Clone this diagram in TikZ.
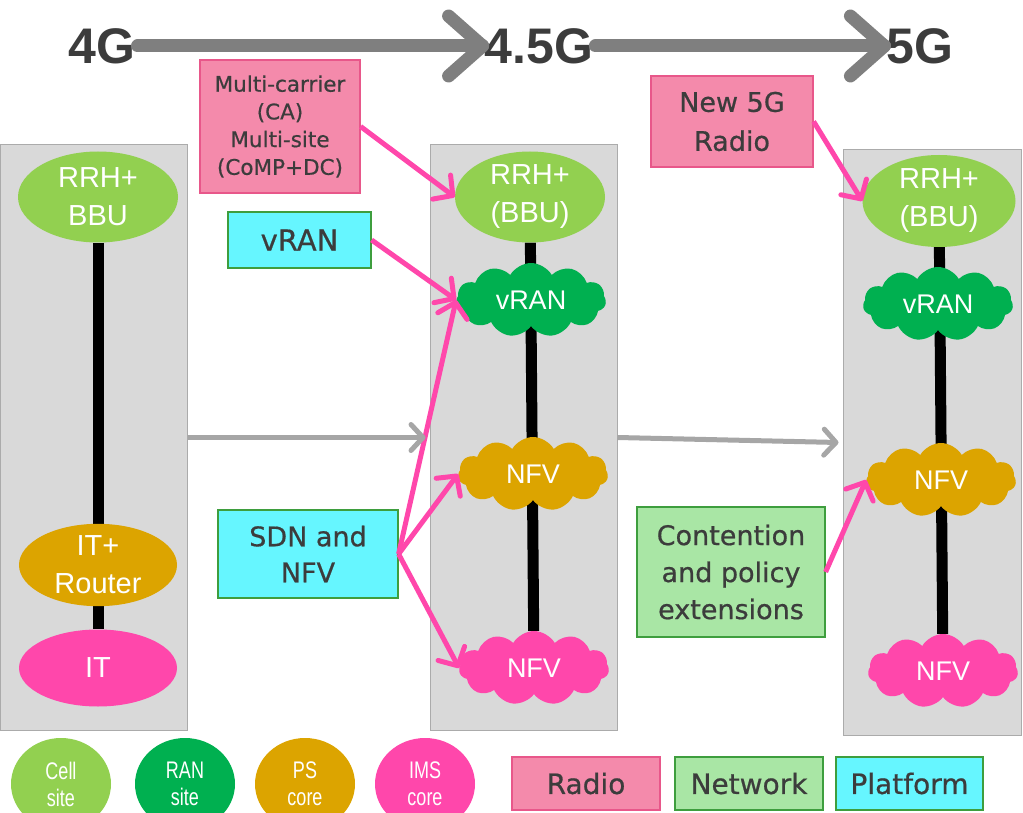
\documentclass[tikz,border=0pt]{standalone}
\usepackage{fontspec}
\setmainfont{Liberation Sans}
\newfontfamily\boxfont[FakeBold=0.6]{DejaVu Sans}
\newfontfamily\narrowfont[FakeStretch=0.75]{Liberation Sans}
\usetikzlibrary{shapes.geometric,shapes.symbols,arrows.meta}

\definecolor{cellgreen}{HTML}{92D050}
\definecolor{rangreen}{HTML}{00B050}
\definecolor{psgold}{HTML}{DCA400}
\definecolor{imspink}{HTML}{FF47AB}
\definecolor{radiofill}{HTML}{F48AAB}
\definecolor{radioline}{HTML}{E8578A}
\definecolor{netfill}{HTML}{A9E6A5}
\definecolor{netline}{HTML}{3E9E3E}
\definecolor{platfill}{HTML}{66F6FF}
\definecolor{colfill}{HTML}{D9D9D9}
\definecolor{colline}{HTML}{ABABAB}
\definecolor{darktext}{HTML}{3C3C3C}
\definecolor{evogray}{HTML}{7F7F7F}
\definecolor{flowgray}{HTML}{A6A6A6}

\pgfdeclarelayer{cols}
\pgfdeclarelayer{links}
\pgfsetlayers{cols,links,main}

\tikzset{
  column/.style={draw=colline, fill=colfill, line width=1, inner sep=0},
  site/.style={ellipse, fill=#1, text=white, align=center, inner sep=0,
    font=\fontsize{29}{38}\selectfont},
  vnf/.style={cloud, cloud puffs=11, cloud puff arc=120, aspect=2.1, fill=#1,
    text=white, inner sep=0, minimum width=150, minimum height=74,
    font=\fontsize{27}{32}\selectfont},
  tagbox/.style={line width=1.2, inner sep=0, align=center, text=darktext},
  radio/.style={tagbox, fill=radiofill, draw=radioline},
  net/.style={tagbox, fill=netfill, draw=netline},
  plat/.style={tagbox, fill=platfill, draw=netline},
  era/.style={text=darktext, inner sep=2, font=\fontsize{50}{50}\selectfont\bfseries},
  legsite/.style={ellipse, fill=#1, text=white, align=center, inner sep=0,
    minimum width=100, minimum height=92, font=\narrowfont\fontsize{24}{27}\selectfont},
  backbone/.style={line width=11},
  evo/.style={evogray, line width=13, line cap=round, line join=round},
  flow/.style={flowgray, line width=5, -{Straight Barb[length=12pt,width=26pt,round]}},
  push/.style={imspink, line width=5, -{Straight Barb[length=14pt,width=30pt,round]}},
}

\begin{document}
\begin{tikzpicture}[x=1pt, y=-1pt]
  \useasboundingbox (0,0) rectangle (1023,813);
  \clip (0,0) rectangle (1023,813);

  % the three columns
  \begin{pgfonlayer}{cols}
    \node[column, minimum width=187, minimum height=585] (c1) at (93.5,437.5) {};
    \node[column, minimum width=187, minimum height=585] (c2) at (523.5,437.5) {};
    \node[column, minimum width=178, minimum height=585] (c3) at (932,442.5) {};
  \end{pgfonlayer}

  % 4G -> 4.5G -> 5G
  \node[era] (g4) at (102,46) {4G};
  \node[era] (g45) at (539,46) {4.5G};
  \node[era] (g5) at (920,46) {5G};
  \draw[evo] (g4.east) -- (g45.west);
  \draw[evo] ([shift={(-34,-30)}]g45.west) -- (g45.west) -- ([shift={(-34,30)}]g45.west);
  \draw[evo] (g45.east) -- (g5.west);
  \draw[evo] ([shift={(-34,-30)}]g5.west) -- (g5.west) -- ([shift={(-34,30)}]g5.west);

  % 4G column
  \node[site=cellgreen, minimum width=160, minimum height=91] (rrh1) at (98,197) {RRH+\\BBU};
  \node[site=psgold, minimum width=158, minimum height=75] (router1) at (98,565) {IT+\\Router};
  \node[site=imspink, minimum width=158, minimum height=77] (it1) at (98,668) {IT};

  % 4.5G column
  \node[site=cellgreen, minimum width=150, minimum height=91] (rrh2) at (530,197) {RRH+\\(BBU)};
  \node[vnf=rangreen] (vran2) at (531,300) {vRAN};
  \node[vnf=psgold] (nfv2) at (533,474) {NFV};
  \node[vnf=imspink] (ims2) at (534,668) {NFV};

  % 5G column
  \node[site=cellgreen, minimum width=153, minimum height=92] (rrh3) at (939,201) {RRH+\\(BBU)};
  \node[vnf=rangreen] (vran3) at (938,304) {vRAN};
  \node[vnf=psgold] (nfv3) at (941,480) {NFV};
  \node[vnf=imspink] (ims3) at (943,671) {NFV};

  % backbones
  \begin{pgfonlayer}{links}
    \draw[backbone] (rrh1) -- (it1);
    \draw[backbone] (rrh2) -- (ims2);
    \draw[backbone] (rrh3) -- (ims3);
  \end{pgfonlayer}

  % drivers
  \node[radio, minimum width=160, minimum height=133,
    font=\boxfont\fontsize{21.5}{27.7}\selectfont] (carrier) at (280,126.5)
    {Multi-carrier\\(CA)\\Multi-site\\(CoMP+DC)};
  \node[plat, minimum width=143, minimum height=56,
    font=\boxfont\fontsize{29}{36}\selectfont] (vranbox) at (299.5,240) {vRAN};
  \node[plat, minimum width=180, minimum height=88,
    font=\boxfont\fontsize{27}{36}\selectfont] (sdn) at (308,554) {SDN and\\NFV};
  \node[radio, minimum width=162, minimum height=91,
    font=\boxfont\fontsize{27}{39}\selectfont] (newradio) at (732,121.5) {New 5G\\Radio};
  \node[net, minimum width=188, minimum height=130,
    font=\boxfont\fontsize{27}{37}\selectfont] (policy) at (731,572)
    {Contention\\and policy\\extensions};

  \draw[push] (carrier.east) -- (rrh2.west);
  \draw[push] (vranbox.east) -- (vran2.west);
  \draw[push] (sdn.east) -- (vran2.west);
  \draw[push] (sdn.east) -- (nfv2.west);
  \draw[push] (sdn.east) -- (ims2.west);
  \draw[push] (newradio.east) -- (rrh3.west);
  \draw[push] (policy.east) -- (nfv3.west);

  % migration
  \draw[flow] (c1.east) -- ([xshift=-4]c2.west);
  \draw[flow] (c2.east) -- ([xshift=-4]c3.west);

  % legend
  \node[legsite=cellgreen] (lcell) at (61,784) {Cell\\site};
  \node[legsite=rangreen] (lran) at (185,784) {RAN\\site};
  \node[legsite=psgold] (lps) at (305,784) {PS\\core};
  \node[legsite=imspink] (lims) at (425,784) {IMS\\core};
  \node[radio, minimum width=148, minimum height=53,
    font=\boxfont\fontsize{28}{30}\selectfont] (lradio) at (586,783.5) {Radio};
  \node[net, minimum width=148, minimum height=53,
    font=\boxfont\fontsize{28}{30}\selectfont] (lnet) at (749,783.5) {Network};
  \node[plat, minimum width=147, minimum height=53,
    font=\boxfont\fontsize{28}{30}\selectfont] (lplat) at (909.5,783.5) {Platform};
\end{tikzpicture}
\end{document}
